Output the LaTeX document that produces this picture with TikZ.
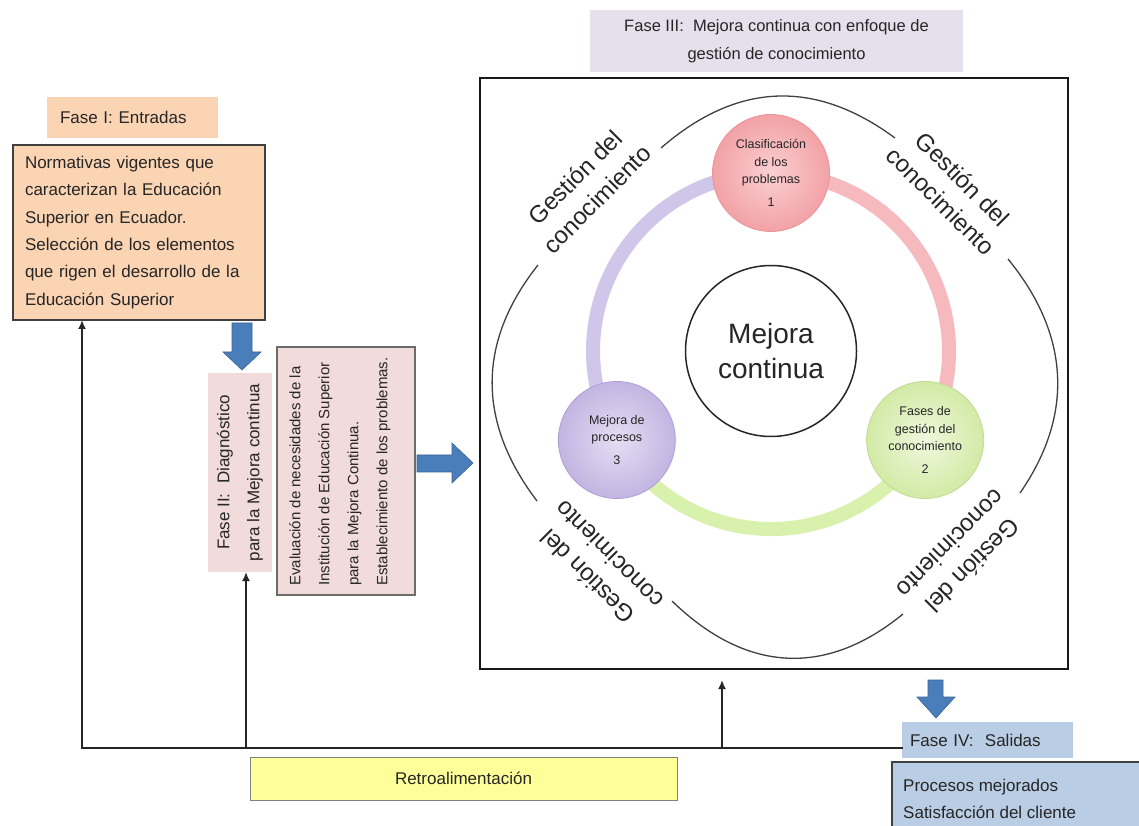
\documentclass[tikz,border=0pt]{standalone}
\usepackage{fontspec}
\setmainfont{Liberation Sans}
\usetikzlibrary{arrows.meta,calc}
\definecolor{peach}{HTML}{FBD4B4}
\definecolor{pinkbox}{HTML}{F2DCDB}
\definecolor{lavbox}{HTML}{E5E0EC}
\definecolor{bluebox}{HTML}{B9CDE5}
\definecolor{yellowbox}{HTML}{FFFF99}
\definecolor{arrowblue}{HTML}{4A7EBB}
\definecolor{arrowedge}{HTML}{3A6496}
\definecolor{darkline}{HTML}{404040}
\definecolor{ringpurple}{HTML}{D0C6EA}
\definecolor{ringpink}{HTML}{F6BABE}
\definecolor{ringgreen}{HTML}{D8F1AC}
\definecolor{txtcol}{HTML}{262626}
\definecolor{nAin}{HTML}{FBD0D2}
\definecolor{nAout}{HTML}{F2A2A6}
\definecolor{nAdraw}{HTML}{E8959A}
\definecolor{nBin}{HTML}{F0F8DE}
\definecolor{nBout}{HTML}{D2EAA6}
\definecolor{nBdraw}{HTML}{C0DD90}
\definecolor{nCin}{HTML}{E6DEF3}
\definecolor{nCout}{HTML}{C2B5E2}
\definecolor{nCdraw}{HTML}{AE9FD4}
\begin{document}
\begin{tikzpicture}[x=1pt,y=1pt,
  every node/.style={text=txtcol},
  plain/.style={rectangle, inner sep=0pt, outer sep=0pt},
  boxtext/.style={font=\fontsize{17}{27.4}\selectfont},
  blockarrow/.style={fill=arrowblue, draw=arrowedge, line width=0.6pt, line join=miter},
  fbline/.style={draw=black!85, line width=2pt, line cap=rect},
  fbarrow/.style={draw=black!85, line width=2pt, -{Latex[length=9pt,width=8pt]}},
  outerarc/.style={draw=darkline, line width=1.3pt},
  outerlabel/.style={align=center, font=\fontsize{24}{31}\selectfont, inner sep=0pt},
  stepnode/.style={circle, minimum size=117pt, inner sep=0pt, align=center, font=\fontsize{12.5}{17.5}\selectfont, line width=0.8pt},
  ringarc/.style={line width=14pt},
]
\clip (0,0) rectangle (1139,825);
\fill[white] (0,0) rectangle (1139,825);

% ---------- Fase I ----------
\node[plain, fill=peach, minimum width=171pt, minimum height=41pt, inner xsep=13pt, text width=145pt, align=left, font=\fontsize{17}{20}\selectfont] (f1title) at (132.5,707.5) {Fase I: Entradas};
\node[plain, fill=peach, draw=darkline, line width=1.5pt, minimum width=252pt, minimum height=175pt, inner xsep=12pt, text width=228pt, align=left, boxtext] (f1box) at (139,592.5) {Normativas vigentes que\\caracterizan la Educación\\Superior en Ecuador.\\Selección de los elementos\\que rigen el desarrollo de la\\Educación Superior};

% down arrow to Fase II
\draw[blockarrow] (232,502) -- (252,502) -- (252,473) -- (261,473) -- (242,455) -- (223,473) -- (232,473) -- cycle;

% ---------- Fase II ----------
\node[plain, fill=pinkbox, rotate=90, minimum width=199pt, minimum height=64pt, align=center, font=\fontsize{17}{30}\selectfont] (f2title) at (240,352.5) {Fase II:\ \ Diagnóstico\\para la Mejora continua};
\node[plain, fill=pinkbox, draw=gray!85!black, line width=1.5pt, minimum width=138pt, minimum height=248pt] (f2box) at (346,354) {};
\node[rotate=90, anchor=west, align=left, inner sep=0pt, font=\fontsize{15}{29}\selectfont] (f2text) at (340,239) {Evaluación de necesidades de la\\Institución de Educación Superior\\para la Mejora Continua.\\Establecimiento de los problemas.};

% right arrow to Fase III
\draw[blockarrow] (417,370) -- (452,370) -- (452,382) -- (473,362) -- (452,342) -- (452,353) -- (417,353) -- cycle;

% ---------- Fase III ----------
\node[plain, fill=lavbox, minimum width=373pt, minimum height=62pt, align=center, font=\fontsize{16.5}{28}\selectfont] (f3title) at (776.5,784) {Fase III:\ \ Mejora continua con enfoque de\\gestión de conocimiento};
\node[plain, draw=black!90, line width=2pt, minimum width=588pt, minimum height=591pt] (bigbox) at (774,451.5) {};

% outer arcs
\draw[outerarc] (661,677) .. controls (737,743) and (815,746) .. (895,687);
\draw[outerarc] (538,560) .. controls (477,483) and (477,403) .. (537,324);
\draw[outerarc] (1008,566) .. controls (1070,490) and (1074,410) .. (1020,332);
\draw[outerarc] (672,224) .. controls (746,152) and (826,148) .. (903,211);

% outer labels
\node[outerlabel, rotate=45] (gTL) at (586,637) {Gestión del\\conocimiento};
\node[outerlabel, rotate=-45] (gTR) at (952,635) {Gestión del\\conocimiento};
\node[outerlabel, rotate=135] (gBL) at (598,259) {Gestión del\\conocimiento};
\node[outerlabel, rotate=-135] (gBR) at (962,270) {Gestión del\\conocimiento};

% ring
\coordinate (rc) at (771,474);
\draw[ringarc, draw=ringpurple] ([shift={(90:178)}]rc) arc[start angle=90, end angle=210, radius=178];
\draw[ringarc, draw=ringpink] ([shift={(-30:178)}]rc) arc[start angle=-30, end angle=90, radius=178];
\draw[ringarc, draw=ringgreen] ([shift={(210:178)}]rc) arc[start angle=210, end angle=330, radius=178];

\node[circle, draw=black!85, line width=1.5pt, minimum size=171pt, inner sep=0pt, align=center, font=\fontsize{28}{35}\selectfont] (mc) at (rc) {Mejora\\continua};

\node[stepnode, inner color=nAin, outer color=nAout, draw=nAdraw] (n1) at ([shift={(90:178)}]rc) {Clasificación\\de los\\problemas\\[5pt]1};
\node[stepnode, inner color=nBin, outer color=nBout, draw=nBdraw] (n2) at ([shift={(-30:178)}]rc) {Fases de\\gestión del\\conocimiento\\[5pt]2};
\node[stepnode, inner color=nCin, outer color=nCout, draw=nCdraw] (n3) at ([shift={(210:178)}]rc) {Mejora de\\procesos\\[5pt]3};

% ---------- Fase IV ----------
\draw[blockarrow] (928,145) -- (943,145) -- (943,128) -- (955,128) -- (936,107) -- (917,128) -- (928,128) -- cycle;
\node[plain, fill=bluebox, minimum width=171pt, minimum height=36pt, inner xsep=8pt, text width=155pt, align=left, font=\fontsize{17}{20}\selectfont] (f4title) at (987.5,85) {Fase IV:\ \ Salidas};
\node[plain, fill=bluebox, draw=darkline, line width=1.5pt, minimum width=258pt, minimum height=78pt] (f4box) at (1021,24) {};
\node[anchor=west, align=left, inner sep=0pt, font=\fontsize{17}{27}\selectfont] (f4text) at (903,26.5) {Procesos mejorados\\Satisfacción del cliente};

% ---------- Retroalimentación ----------
\coordinate (fbL) at (82,77);
\coordinate (fbM) at (246,77);
\coordinate (fbR) at (722,77);
\coordinate (fbT) at (722,145);
\draw[fbline] (fbL) -- (f4title.west |- fbL);
\draw[fbarrow] (fbL) -- (fbL |- f1box.south);
\draw[fbarrow] (fbM) -- (fbM |- f2title.west);
\draw[fbarrow] (fbR) -- (fbT);
\node[plain, fill=yellowbox, draw=gray, line width=1pt, minimum width=427pt, minimum height=43pt, font=\fontsize{17}{20}\selectfont] (retro) at (463.5,46.5) {Retroalimentación};
\end{tikzpicture}
\end{document}
